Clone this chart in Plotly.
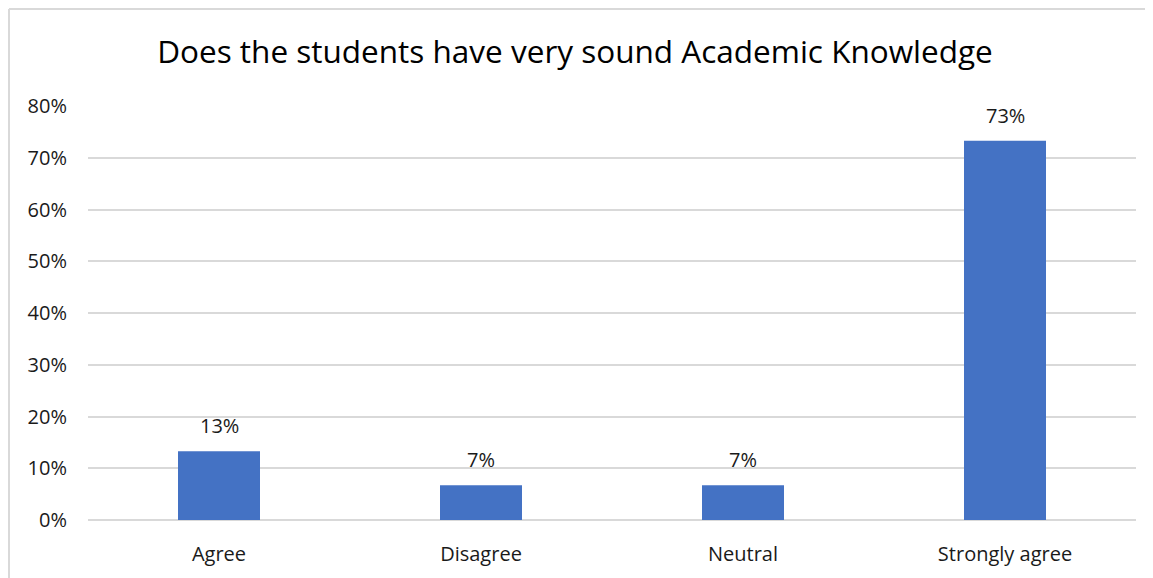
import plotly.graph_objects as go

categories = ["Agree", "Disagree", "Neutral", "Strongly agree"]
values = [0.133, 0.067, 0.067, 0.733]
labels = ["13%", "7%", "7%", "73%"]
y_ticks = [0, 0.1, 0.2, 0.3, 0.4, 0.5, 0.6, 0.7, 0.8]
y_tick_text = ["0%", "10%", "20%", "30%", "40%", "50%", "60%", "70%", "80%"]
title = "Does the students have very sound Academic Knowledge"

# page body has an 8px margin; compensate so the layout lands where the reference has it
OFF = 8
W, H = 1153, 578 - OFF
ml, mr, mt, mb = 88 - OFF, 17 + OFF, 106 - OFF, 58
pw, ph = W - ml - mr, H - mt - mb

FONT = "Open Sans"
TXT = "#1a1a1a"

fig = go.Figure(go.Bar(x=categories, y=values, marker=dict(color="#4472C4", line=dict(width=0)),
                       width=0.313, hoverinfo="skip"))

for c, v, t in zip(categories, values, labels):
    fig.add_annotation(x=c, y=v, text=t, showarrow=False, yanchor="bottom", yshift=10,
                       font=dict(family=FONT, size=20, color=TXT))

# chart-area border (left and top visible), at the figure's edge
bx = (1 - ml) / pw
by = (H - mb - 1) / ph
fig.add_shape(type="line", xref="paper", yref="paper", x0=bx, x1=bx, y0=-0.3, y1=by,
              line=dict(color="#D9D9D9", width=2))
fig.add_shape(type="line", xref="paper", yref="paper", x0=bx, x1=1.2, y0=by, y1=by,
              line=dict(color="#D9D9D9", width=2))

fig.update_layout(
    width=W, height=H,
    margin=dict(l=ml, r=mr, t=mt, b=mb),
    paper_bgcolor="white", plot_bgcolor="white",
    title=dict(text=title, x=(575 - 88) / pw, xref="paper", xanchor="center", y=1 - (52 - OFF) / H,
               yanchor="middle", font=dict(family=FONT, size=31.5, color="#000000")),
    showlegend=False,
    xaxis=dict(showgrid=False, showline=False, zeroline=False, ticks="",
               tickfont=dict(family=FONT, size=20, color=TXT), ticklabelstandoff=20),
    yaxis=dict(range=[0, 0.8], tickvals=y_ticks, ticktext=y_tick_text, showgrid=True,
               gridcolor="#D9D9D9", gridwidth=1.5, zeroline=True, zerolinecolor="#D9D9D9",
               zerolinewidth=1.5, showline=False, ticks="",
               tickfont=dict(family=FONT, size=20, color=TXT), ticklabelstandoff=20),
)

fig.write_html("out.html")
